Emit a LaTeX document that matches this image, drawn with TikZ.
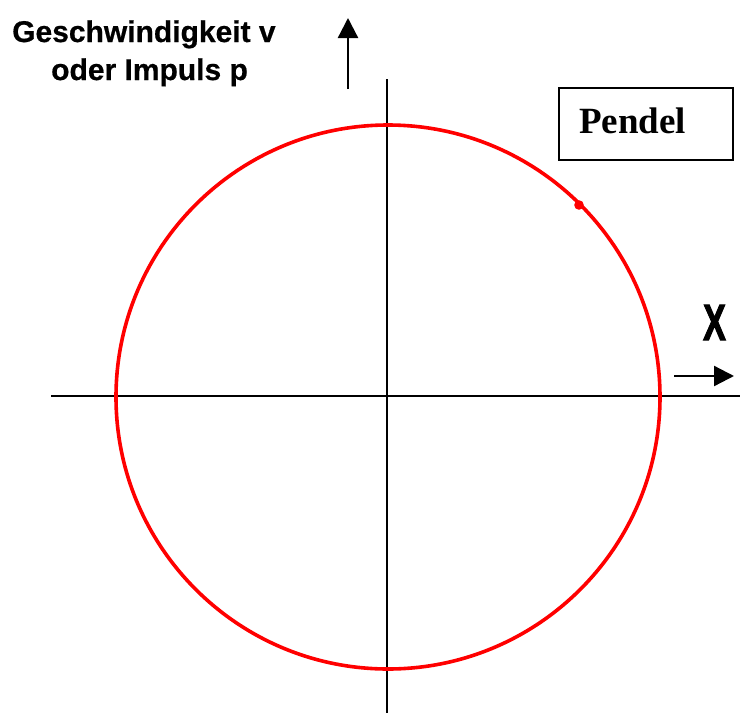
\documentclass[tikz,border=0pt]{standalone}
\usepackage{fontspec}
\setmainfont{Liberation Serif}
\newfontfamily\lsans{Liberation Sans}[BoldFeatures={FakeBold=0.6}]
\newfontfamily\lsansheavy{Liberation Sans Bold}[FakeBold=2.5]
\usetikzlibrary{arrows.meta}
\begin{document}
\begin{tikzpicture}[x=1pt,y=-1pt,
  axis/.style={line width=2.8pt,black},
  orbit/.style={line width=3.6pt,red},
  dirarrow/.style={line width=2.3pt,-{Triangle[width=20pt,length=20pt]}},
  lbl/.style={inner sep=0pt,anchor=base west,font=\lsans\bfseries\fontsize{30}{36}\selectfont}]
\useasboundingbox (0,0) rectangle (740,713);
% axes
\coordinate (xl) at (51,396);
\coordinate (xr) at (740,396);
\coordinate (yt) at (387,79);
\coordinate (yb) at (387,713);
\draw[axis] (xl) -- (xr);
\draw[axis] (yt) -- (yb);
% circle
\coordinate (c) at (388,397);
\draw[orbit] (c) circle[radius=272];
\fill[red] (579,205) circle[radius=4.8] coordinate (dot);
% labels
\node[lbl] (l1) at (12,42) {Geschwindigkeit v};
\node[lbl] (l2) at (51,80) {oder Impuls p};
\coordinate (ua) at (348,89);
\coordinate (ub) at (348,18);
\draw[dirarrow] (ua) -- (ub);
\node[inner sep=0pt,anchor=base,font=\lsansheavy\fontsize{34}{40}\selectfont,yscale=1.5] (xlab) at (714.5,340) {X};
\coordinate (ra) at (674,376);
\coordinate (rb) at (734,376);
\draw[dirarrow] (ra) -- (rb);
% Pendel box
\draw[line width=2.3pt] (559,88) rectangle (733,160);
\node[inner sep=0pt,anchor=base west,font=\bfseries\fontsize{37}{44}\selectfont] (pendel) at (579,133) {Pendel};
\end{tikzpicture}
\end{document}
